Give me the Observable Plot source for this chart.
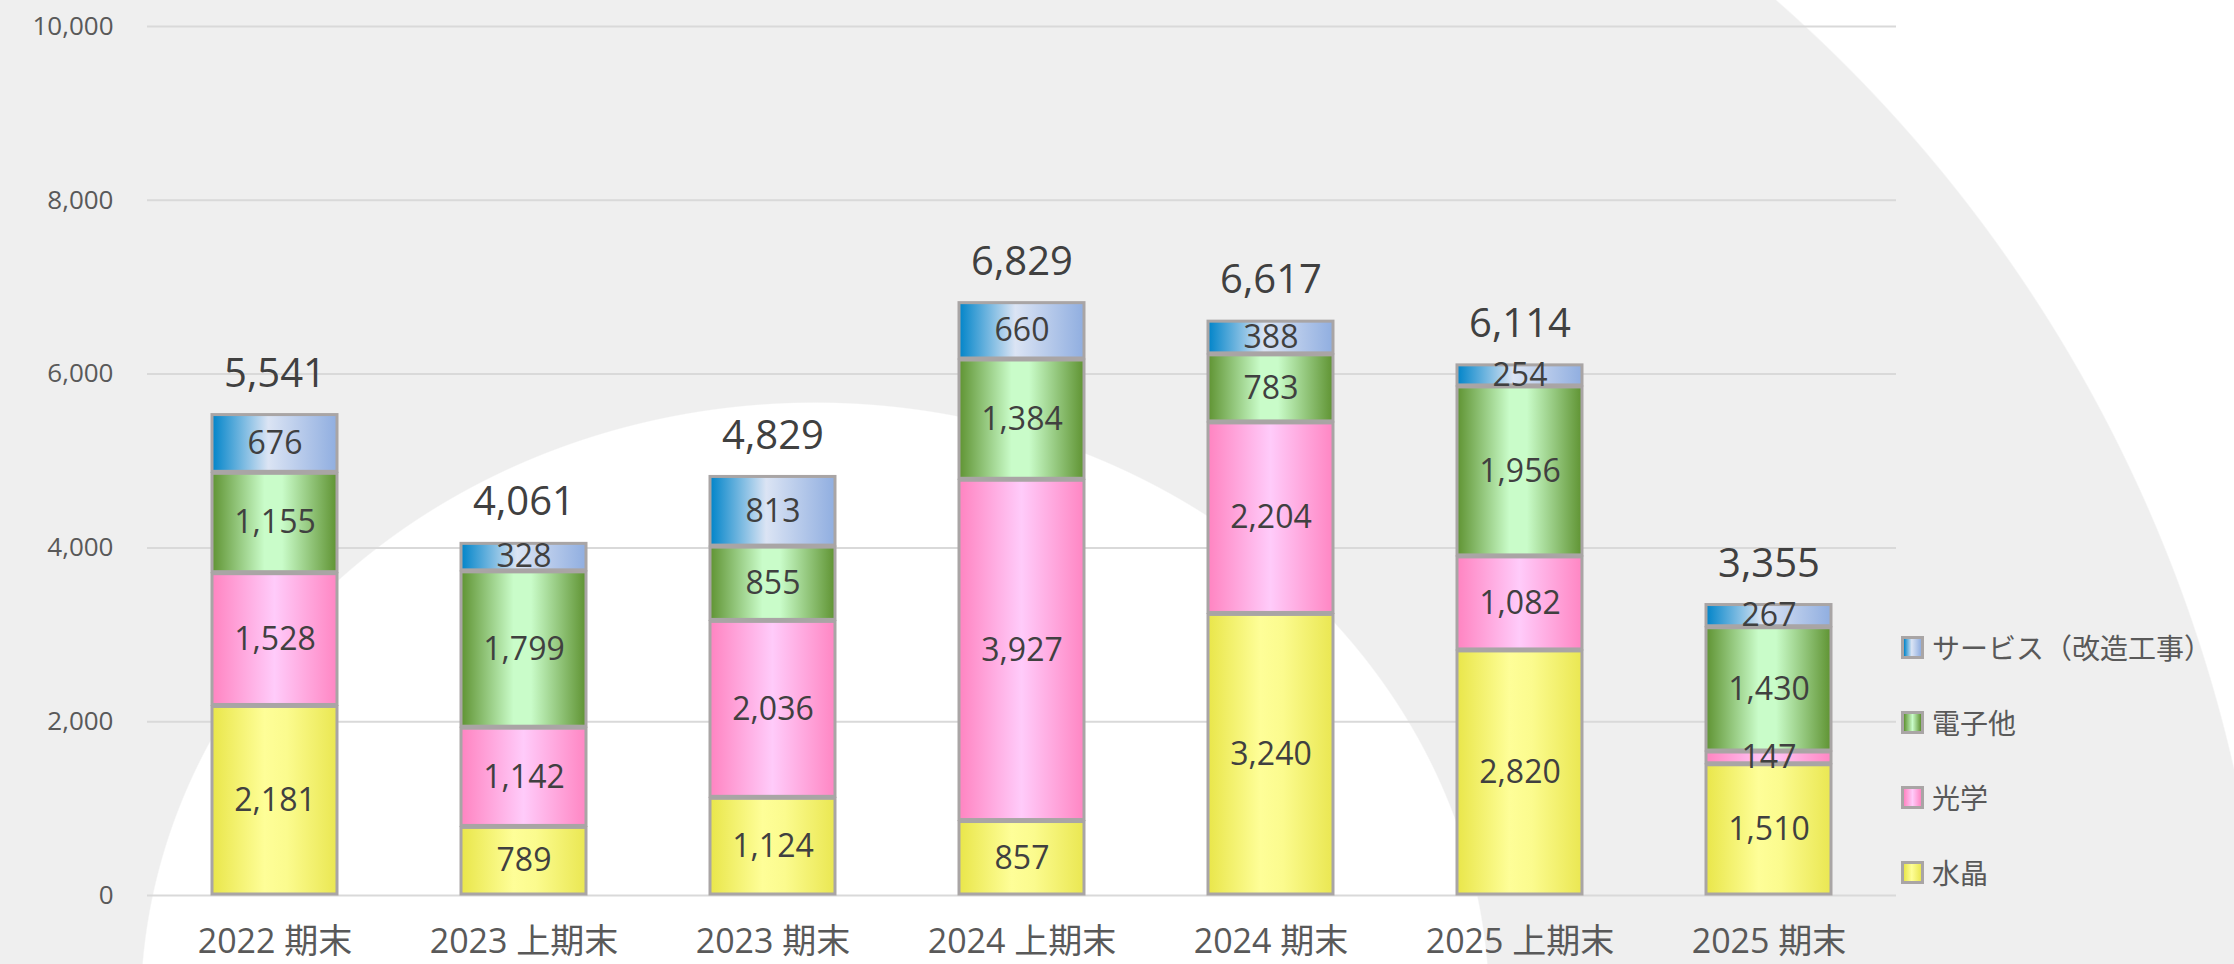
<!DOCTYPE html>
<html>
<head>
<meta charset="utf-8">
<script src="https://cdn.jsdelivr.net/npm/d3@7"></script>
<script src="https://cdn.jsdelivr.net/npm/@observablehq/plot@0.6"></script>
<style>
  html, body { margin: 0; padding: 0; background: #fff; }
  #chart {
    position: relative; width: 2234px; height: 964px; overflow: hidden;
    background:
      radial-gradient(ellipse 675px 608px at 815px 1010px, #ffffff 99.8%, rgba(255,255,255,0) 100%),
      radial-gradient(circle 1452px at 819px 1091px, #efefef 99.9%, #ffffff 100%);
  }
  #chart svg.plotsvg { position: absolute; left: 0; top: 0; }
  #legend { position: absolute; left: 1901px; top: 0; font-family: "Noto Sans CJK JP", sans-serif; font-size: 28px; color: #595959; }
  #legend .item { position: absolute; left: 0; height: 30px; display: flex; align-items: center; white-space: nowrap; }
  #legend .sw { width: 23px; height: 23px; box-sizing: border-box; border: 3px solid #a9a5a5; margin-right: 8px; flex: none; }
</style>
</head>
<body>
<svg width="0" height="0" style="position:absolute">
  <defs>
    <linearGradient id="gY" x1="0" x2="1" y1="0" y2="0">
      <stop offset="0" stop-color="#e9e64a"/>
      <stop offset="0.42" stop-color="#fefe98"/>
      <stop offset="0.6" stop-color="#fbfb8e"/>
      <stop offset="1" stop-color="#eae752"/>
    </linearGradient>
    <linearGradient id="gP" x1="0" x2="1" y1="0" y2="0">
      <stop offset="0" stop-color="#ff84c1"/>
      <stop offset="0.5" stop-color="#ffcbfa"/>
      <stop offset="1" stop-color="#ff86c3"/>
    </linearGradient>
    <linearGradient id="gG" x1="0" x2="1" y1="0" y2="0">
      <stop offset="0" stop-color="#5f9332"/>
      <stop offset="0.42" stop-color="#c9fcc9"/>
      <stop offset="0.56" stop-color="#c9fcc9"/>
      <stop offset="1" stop-color="#5f9332"/>
    </linearGradient>
    <linearGradient id="gB" x1="0" x2="1" y1="0" y2="0">
      <stop offset="0" stop-color="#0084c9"/>
      <stop offset="0.45" stop-color="#dbe4f4"/>
      <stop offset="1" stop-color="#90aee0"/>
    </linearGradient>
  </defs>
</svg>
<div id="chart">
  <div id="legend"></div>
</div>
<script>
// ---- data ----
const periods = ["2022 期末", "2023 上期末", "2023 期末", "2024 上期末", "2024 期末", "2025 上期末", "2025 期末"];
const seriesNames = ["水晶", "光学", "電子他", "サービス（改造工事）"];
const crystal     = [2181,  789, 1124,  857, 3240, 2820, 1510];
const optics      = [1528, 1142, 2036, 3927, 2204, 1082,  147];
const electronics = [1155, 1799,  855, 1384,  783, 1956, 1430];
const service     = [ 676,  328,  813,  660,  388,  254,  267];
const totals      = [5541, 4061, 4829, 6829, 6617, 6114, 3355];
const yTicks      = [0, 2000, 4000, 6000, 8000, 10000];

// ---- build table ----
const seriesValues = [crystal, optics, electronics, service];
const rows = [];
periods.forEach((p, i) => {
  seriesNames.forEach((s, k) => rows.push({period: p, series: s, value: seriesValues[k][i]}));
});
const totalRows = periods.map((p, i) => ({period: p, total: totals[i]}));
const fmt = d3.format(",");
const fills = ["url(#gY)", "url(#gP)", "url(#gG)", "url(#gB)"];

const chart = Plot.plot({
  width: 2234,
  height: 964,
  marginTop: 26,
  marginBottom: 69,
  marginLeft: 147,
  marginRight: 338,
  style: {background: "transparent", fontFamily: '"Open Sans", "Noto Sans CJK JP", sans-serif', overflow: "visible"},
  x: {domain: periods, paddingInner: 0.5, paddingOuter: 0.25, label: null},
  y: {domain: [0, 10000], label: null},
  color: {domain: seriesNames, range: fills},
  marks: [
    Plot.gridY(yTicks, {stroke: "#d9d9d9", strokeWidth: 2, strokeOpacity: 1}),
    Plot.axisY(yTicks, {tickSize: 0, tickPadding: 34, tickFormat: fmt, fontSize: 26, fill: "#595959", label: null}),
    Plot.axisX({tickSize: 0, tickPadding: 33, fontSize: 34, fill: "#595959", label: null}),
    Plot.barY(rows, Plot.stackY({x: "period", y: "value", z: "series", fill: "series",
      stroke: "#a9a5a5", strokeWidth: 3, insetTop: 1, insetBottom: 1})),
    Plot.text(rows, Plot.stackY({x: "period", y: "value", z: "series",
      text: d => fmt(d.value), fontSize: 32, fill: "#404040"})),
    Plot.text(totalRows, {x: "period", y: "total", text: d => fmt(d.total), dy: -40, fontSize: 40, fill: "#404040"})
  ]
});
chart.classList.add("plotsvg");
document.getElementById("chart").insertBefore(chart, document.getElementById("legend"));

// ---- legend (top to bottom: reverse stack order) ----
const legendCss = {
  "水晶": "linear-gradient(to right, #e9e64a, #fefe98 45%, #eae752)",
  "光学": "linear-gradient(to right, #ff84c1, #ffcbfa 50%, #ff86c3)",
  "電子他": "linear-gradient(to right, #5f9332, #c9fcc9 50%, #5f9332)",
  "サービス（改造工事）": "linear-gradient(to right, #0084c9, #dbe4f4 45%, #90aee0)"
};
const legend = document.getElementById("legend");
const legendCenters = [647, 722, 797, 872];
seriesNames.slice().reverse().forEach((s, i) => {
  const item = document.createElement("div");
  item.className = "item";
  item.style.top = (legendCenters[i] - 15) + "px";
  const sw = document.createElement("div");
  sw.className = "sw";
  sw.style.background = legendCss[s];
  const tx = document.createElement("span");
  tx.textContent = s;
  item.appendChild(sw);
  item.appendChild(tx);
  legend.appendChild(item);
});
</script>
</body>
</html>
